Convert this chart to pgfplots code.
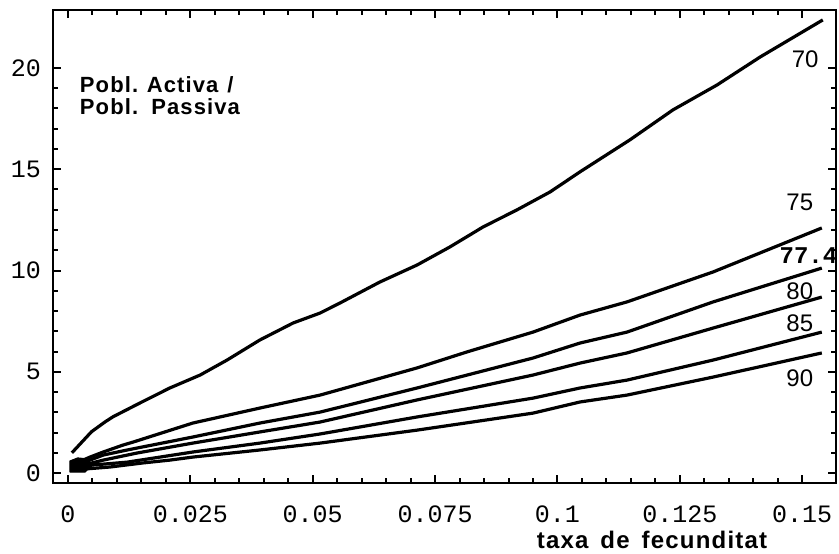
\documentclass[border=0pt]{standalone}
\usepackage{fontspec}
\setmainfont{Liberation Sans}
\setmonofont{Liberation Mono}
\newfontfamily\lblfont[LetterSpace=5]{Liberation Sans}
\usepackage{pgfplots}
\pgfplotsset{compat=1.18}

\begin{document}
\begin{tikzpicture}
\path[use as bounding box] (-26.5pt,-35pt) rectangle (393pt,241.5pt);
\begin{axis}[
  scale only axis, width=391.5pt, height=236.5pt,
  xmin=-0.00306, xmax=0.1569, ymin=-0.49, ymax=22.86,
  xtick={0,0.025,0.05,0.075,0.1,0.125,0.15},
  xticklabels={0,0.025,0.05,0.075,0.1,0.125,0.15},
  ytick={0,5,10,15,20},
  yticklabels={0,5,10,15,20},
  minor x tick num=4, minor y tick num=4,
  tick label style={font=\ttfamily\fontsize{12.5}{14}\selectfont},
  xticklabel style={yshift=-8pt},
  yticklabel style={xshift=-2.5pt},
  tick align=inside,
  major tick length=4pt, minor tick length=2.5pt,
  tick style={line width=1pt, black},
  axis line style={line width=1.3pt},
  clip=false,
  cycle list={{black}},
  every axis plot/.append style={line width=1.6pt, line join=round, no marks},
]
% 70
\addplot coordinates {(0.0008,1.0)(0.0048,2.04)(0.0076,2.53)(0.0092,2.78)(0.0147,3.46)(0.0208,4.2)(0.027,4.84)(0.0325,5.58)(0.0392,6.57)(0.046,7.41)(0.0515,7.9)(0.0556,8.4)(0.0637,9.43)(0.0713,10.27)(0.078,11.16)(0.0848,12.15)(0.0917,12.99)(0.0985,13.88)(0.1046,14.87)(0.1148,16.45)(0.1236,17.93)(0.1326,19.16)(0.1414,20.54)(0.1542,22.37)};
% 75
\addplot coordinates {(0.0008,0.4)(0.0045,0.79)(0.0072,1.04)(0.0112,1.38)(0.0133,1.53)(0.0255,2.47)(0.0392,3.21)(0.0515,3.85)(0.0713,5.19)(0.0815,5.98)(0.095,6.96)(0.1046,7.8)(0.1142,8.45)(0.1318,9.93)(0.154,12.1)};
% 77.4
\addplot coordinates {(0.0008,0.3)(0.0072,0.89)(0.0121,1.14)(0.0255,1.78)(0.0392,2.47)(0.0515,3.01)(0.0713,4.2)(0.095,5.68)(0.1046,6.42)(0.1142,6.96)(0.1318,8.45)(0.154,10.12)};
% 80
\addplot coordinates {(0.0008,0.25)(0.0072,0.64)(0.0141,0.99)(0.0255,1.48)(0.0392,2.03)(0.0515,2.52)(0.0713,3.61)(0.095,4.84)(0.1046,5.43)(0.1142,5.93)(0.1318,7.16)(0.154,8.69)};
% 85
\addplot coordinates {(0.0008,0.2)(0.0051,0.4)(0.0121,0.54)(0.0188,0.79)(0.0255,1.04)(0.0392,1.48)(0.0515,1.93)(0.0713,2.77)(0.095,3.7)(0.1046,4.2)(0.1142,4.59)(0.1318,5.58)(0.154,6.96)};
% 90
\addplot coordinates {(0.0008,0.15)(0.0086,0.3)(0.0153,0.5)(0.0208,0.64)(0.0255,0.79)(0.0392,1.14)(0.0515,1.48)(0.0713,2.12)(0.095,2.96)(0.1046,3.51)(0.1142,3.85)(0.1318,4.74)(0.154,5.93)};
% blob at the origin
\addplot[fill=black, draw=black, line width=0.5pt] coordinates {(0.0004,0.05)(0.0004,0.6)(0.002,0.75)(0.004,0.7)(0.0045,0.3)(0.0035,0.05)} -- cycle;

\node[anchor=base west, font=\lblfont\bfseries\fontsize{11}{12}\selectfont] at (axis cs:0.001,18.81) {Pobl.\hspace{0.4em}Activa\hspace{0.4em}/};
\node[anchor=base west, font=\lblfont\bfseries\fontsize{11}{12}\selectfont] at (axis cs:0.001,17.68) {Pobl.\hspace{0.6em}Passiva};
\node[anchor=base, font=\lblfont\bfseries\fontsize{12}{14}\selectfont] at (rel axis cs:0.765,0) [yshift=-32.5pt] {taxa\hspace{0.5em}de\hspace{0.5em}fecunditat};

\begin{scope}[every node/.style={font=\fontsize{12}{14}\selectfont}]
\node at (axis cs:0.1506,20.44) {70};
\node at (axis cs:0.1495,13.38) {75};
\node at (axis cs:0.1495,8.99) {80};
\node at (axis cs:0.1495,7.41) {85};
\node at (axis cs:0.1495,4.69) {90};
\end{scope}
\node[anchor=west, inner sep=0pt, font=\ttfamily\bfseries\fontsize{12}{14}\selectfont] at (axis cs:0.1453,10.72) {77.4};
\end{axis}
\end{tikzpicture}
\end{document}
